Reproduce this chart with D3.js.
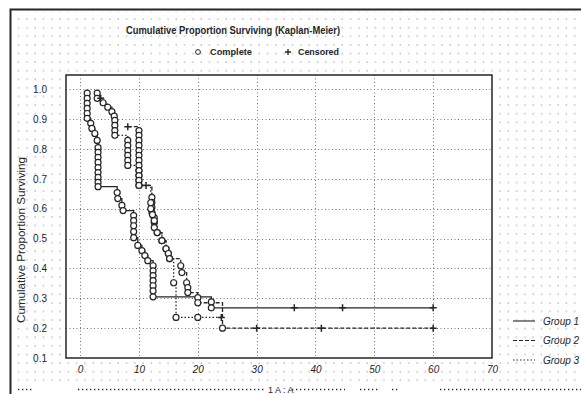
<!DOCTYPE html>
<html>
<head>
<meta charset="utf-8">
<script src="https://cdn.jsdelivr.net/npm/d3@7/dist/d3.min.js"></script>
<style>
  body { margin: 0; background: #fff; }
  svg { display: block; font-family: "Liberation Sans", Arial, sans-serif; }
</style>
</head>
<body>
<div id="chart"></div>
<script>
// tick labels
const xTicks = [0, 10, 20, 30, 40, 50, 60, 70];
const yTicks = [0.1, 0.2, 0.3, 0.4, 0.5, 0.6, 0.7, 0.8, 0.9, 1.0];
const groupNames = ["Group 1", "Group 2", "Group 3"];

// Group 1 (solid)
const g1Time = [1.2, 1.2, 1.2, 1.2, 1.2, 1.2, 1.8, 2.0, 2.5, 2.9,
  3.05, 3.05, 3.05, 3.05, 3.05, 3.05, 3.05, 3.05, 3.05,
  6.3, 6.4, 7.1, 7.3, 9.1, 9.1, 9.1, 9.1, 9.1,
  9.8, 10.5, 11.0, 11.5, 12.4, 12.4, 12.4, 12.4, 12.4, 12.4, 12.4,
  22.3, 22.3, 36.4, 44.6, 60];
const g1Surv = [0.987, 0.970, 0.953, 0.936, 0.919, 0.903, 0.886, 0.869, 0.852, 0.829,
  0.805, 0.789, 0.772, 0.755, 0.738, 0.721, 0.705, 0.688, 0.674,
  0.654, 0.634, 0.611, 0.594, 0.577, 0.560, 0.543, 0.523, 0.503,
  0.477, 0.460, 0.443, 0.426, 0.409, 0.392, 0.376, 0.359, 0.342, 0.325, 0.305,
  0.288, 0.268, 0.268, 0.268, 0.268];
const g1Cens = [0, 0, 0, 0, 0, 0, 0, 0, 0, 0, 0, 0, 0, 0, 0, 0, 0, 0, 0, 0, 0, 0,
  0, 0, 0, 0, 0, 0, 0, 0, 0, 0, 0, 0, 0, 0, 0, 0, 0, 0, 0, 1, 1, 1];

// Group 2 (dashed)
const g2Time = [8.1,
  10, 10, 10, 10, 10, 10, 10, 10, 10, 10, 10, 10, 11.2,
  12.2, 12.2, 12.2, 12.2, 12.6, 12.6, 12.6,
  13.1, 13.9, 14.6, 15.0, 15.2, 17.1, 17.3, 18.1, 18.3, 18.3,
  20, 20, 24.2, 30, 41, 60];
const g2Surv = [0.875,
  0.862, 0.846, 0.829, 0.812, 0.795, 0.779, 0.762, 0.745, 0.728, 0.711, 0.695, 0.678, 0.678,
  0.638, 0.621, 0.604, 0.587, 0.570, 0.554, 0.537,
  0.520, 0.493, 0.466, 0.450, 0.433, 0.409, 0.386, 0.352, 0.336, 0.319,
  0.302, 0.285, 0.200, 0.200, 0.200, 0.200];
const g2Cens = [1, 0, 0, 0, 0, 0, 0, 0, 0, 0, 0, 0, 0, 1, 0, 0, 0, 0,
  0, 0, 0, 0, 0, 0, 0, 0, 0, 0, 0, 0, 0, 0, 0, 0, 1, 1, 1];

// Group 3 (dotted)
const g3Time = [2.9, 2.9, 3.5, 3.9, 4.7, 5.4, 5.8, 5.9, 5.9, 5.9, 5.9,
  8.1, 8.1, 8.1, 8.1, 8.1, 8.1, 10, 10, 10, 10,
  12.0, 12.0, 12.3, 12.6, 13.1, 13.9, 14.6, 15.0, 15.2,
  15.9, 16.3, 20, 24];
const g3Surv = [0.987, 0.970, 0.970, 0.955, 0.940, 0.925, 0.910, 0.896, 0.879, 0.862, 0.846,
  0.829, 0.812, 0.795, 0.779, 0.762, 0.745, 0.728, 0.711, 0.695, 0.678,
  0.620, 0.600, 0.580, 0.560, 0.520, 0.493, 0.466, 0.450, 0.433,
  0.352, 0.236, 0.236, 0.236];
const g3Cens = [0, 0, 1, 0, 0, 0, 0, 0, 0, 0, 0, 0, 0, 0, 0, 0, 0, 0, 0, 0,
  0, 0, 0, 0, 0, 0, 0, 0, 0, 0, 0, 0, 0, 1];

const W = 581, H = 394;
const plot = {left: 66, top: 75, right: 492, bottom: 358};
const ink = "#262626";

const svg = d3.select("#chart").append("svg")
    .attr("width", W)
    .attr("height", H);

// dotted background texture
const defs = svg.append("defs");
defs.append("pattern")
    .attr("id", "dots")
    .attr("patternUnits", "userSpaceOnUse")
    .attr("width", 8.3)
    .attr("height", 8.6)
  .append("circle")
    .attr("cx", 2)
    .attr("cy", 2)
    .attr("r", 0.7)
    .attr("fill", "#9a9a9a");

svg.append("rect").attr("width", W).attr("height", H).attr("fill", "#fff");
svg.append("rect")
    .attr("x", 11).attr("y", 11)
    .attr("width", W - 11).attr("height", H - 20)
    .attr("fill", "url(#dots)");

// outer frame (top + left)
svg.append("path")
    .attr("d", "M10.5," + H + "V9.5H" + W)
    .attr("fill", "none")
    .attr("stroke", ink)
    .attr("stroke-width", 2);

// plot area
svg.append("rect")
    .attr("x", plot.left).attr("y", plot.top)
    .attr("width", plot.right - plot.left)
    .attr("height", plot.bottom - plot.top)
    .attr("fill", "#fff");

const x = d3.scaleLinear().domain([-2.4, 70]).range([plot.left, plot.right]);
const y = d3.scaleLinear().domain([0.1, 1.048]).range([plot.bottom, plot.top]);

// gridlines
const grid = svg.append("g").attr("stroke", "#777").attr("stroke-width", 1)
    .attr("stroke-dasharray", "1,2.5");
grid.selectAll(".gx").data(xTicks.filter(d => d < 70)).enter().append("line")
    .attr("x1", d => Math.round(x(d)) + 0.5).attr("x2", d => Math.round(x(d)) + 0.5)
    .attr("y1", plot.top).attr("y2", plot.bottom);
grid.selectAll(".gy").data(yTicks.filter(d => d > 0.15)).enter().append("line")
    .attr("y1", d => Math.round(y(d)) + 0.5).attr("y2", d => Math.round(y(d)) + 0.5)
    .attr("x1", plot.left).attr("x2", plot.right);

// axes (labels only, no tick marks)
const xAxis = d3.axisBottom(x).tickValues(xTicks).tickSize(0).tickPadding(8)
    .tickFormat(d3.format("d"));
const yAxis = d3.axisLeft(y).tickValues(yTicks).tickSize(0).tickPadding(19)
    .tickFormat(d3.format(".1f"));

const gx = svg.append("g")
    .attr("transform", "translate(0," + plot.bottom + ")")
    .call(xAxis);
gx.select(".domain").remove();
gx.selectAll("text").attr("font-size", 10).attr("font-style", "italic")
    .attr("fill", ink).attr("font-family", "Liberation Sans, Arial, sans-serif");

const gy = svg.append("g")
    .attr("transform", "translate(" + plot.left + ",0)")
    .call(yAxis);
gy.select(".domain").remove();
gy.selectAll("text").attr("font-size", 10).attr("fill", ink)
    .attr("font-family", "Liberation Sans, Arial, sans-serif");

// plot frame
svg.append("rect")
    .attr("x", plot.left).attr("y", plot.top)
    .attr("width", plot.right - plot.left)
    .attr("height", plot.bottom - plot.top)
    .attr("fill", "none")
    .attr("stroke", ink)
    .attr("stroke-width", 1.5);

// survival curves
const groups = [
  {time: g1Time, surv: g1Surv, cens: g1Cens, dash: null},
  {time: g2Time, surv: g2Surv, cens: g2Cens, dash: "4,2"},
  {time: g3Time, surv: g3Surv, cens: g3Cens, dash: "1.5,2"}
];

const line = d3.line()
    .x(d => x(d[0]))
    .y(d => y(d[1]))
    .curve(d3.curveStepAfter);

groups.forEach(function(g) {
  const pts = g.time.map((t, i) => [t, g.surv[i], g.cens[i]]);
  svg.append("path")
      .datum(pts)
      .attr("d", line)
      .attr("fill", "none")
      .attr("stroke", ink)
      .attr("stroke-width", 1.3)
      .attr("stroke-dasharray", g.dash);
});

groups.forEach(function(g) {
  const pts = g.time.map((t, i) => [t, g.surv[i], g.cens[i]]);
  svg.append("g").selectAll("circle")
      .data(pts.filter(d => !d[2]))
      .enter().append("circle")
      .attr("cx", d => x(d[0]))
      .attr("cy", d => y(d[1]))
      .attr("r", 3)
      .attr("fill", "#fff")
      .attr("stroke", ink)
      .attr("stroke-width", 1.2);
  svg.append("g").selectAll("path")
      .data(pts.filter(d => d[2]))
      .enter().append("path")
      .attr("d", d => "M" + (x(d[0]) - 3.5) + "," + y(d[1]) + "h7M" + x(d[0]) + "," + (y(d[1]) - 3.5) + "v7")
      .attr("stroke", ink)
      .attr("stroke-width", 1.5);
});

// title
svg.append("text")
    .attr("x", 126).attr("y", 34)
    .attr("textLength", 214)
    .attr("lengthAdjust", "spacingAndGlyphs")
    .attr("font-size", 10).attr("font-weight", "bold")
    .attr("fill", ink)
    .text("Cumulative Proportion Surviving (Kaplan-Meier)");

// marker legend
svg.append("circle").attr("cx", 198).attr("cy", 52).attr("r", 2.4)
    .attr("fill", "#fff").attr("stroke", ink).attr("stroke-width", 1);
svg.append("text").attr("x", 210).attr("y", 55)
    .attr("textLength", 42).attr("lengthAdjust", "spacingAndGlyphs")
    .attr("font-size", 9.5).attr("font-weight", "bold").attr("fill", ink)
    .text("Complete");
svg.append("path").attr("d", "M285,52h6M288,49v6")
    .attr("stroke", ink).attr("stroke-width", 1.3);
svg.append("text").attr("x", 298).attr("y", 55)
    .attr("textLength", 41).attr("lengthAdjust", "spacingAndGlyphs")
    .attr("font-size", 9.5).attr("font-weight", "bold").attr("fill", ink)
    .text("Censored");

// y axis title
svg.append("text")
    .attr("transform", "translate(25,240) rotate(-90)")
    .attr("text-anchor", "middle")
    .attr("textLength", 166).attr("lengthAdjust", "spacingAndGlyphs")
    .attr("font-size", 10).attr("fill", ink)
    .text("Cumulative Proportion Surviving");

// group legend
const leg = svg.append("g").selectAll("g").data(groupNames).enter().append("g")
    .attr("transform", (d, i) => "translate(513," + (321 + i * 19.5) + ")");
leg.append("line")
    .attr("x1", 0).attr("x2", 22)
    .attr("stroke", ink).attr("stroke-width", 1.1)
    .attr("stroke-dasharray", (d, i) => groups[i].dash);
leg.append("text")
    .attr("x", 30).attr("y", 3.5)
    .attr("font-size", 10).attr("font-style", "italic").attr("fill", ink)
    .text(d => d);

// cut-off row at the bottom
const bottomRow = [[18, 32], [78, 266], [292, 345], [360, 380], [392, 400], [440, 581]];
svg.append("g").selectAll("line").data(bottomRow).enter().append("line")
    .attr("x1", d => d[0]).attr("x2", d => d[1])
    .attr("y1", 389.5).attr("y2", 389.5)
    .attr("stroke", ink).attr("stroke-width", 1.3)
    .attr("stroke-dasharray", "1.3,2.7");
svg.append("text").attr("x", 268).attr("y", 393)
    .attr("font-size", 9).attr("fill", ink)
    .text("1 A : A");
</script>
</body>
</html>
